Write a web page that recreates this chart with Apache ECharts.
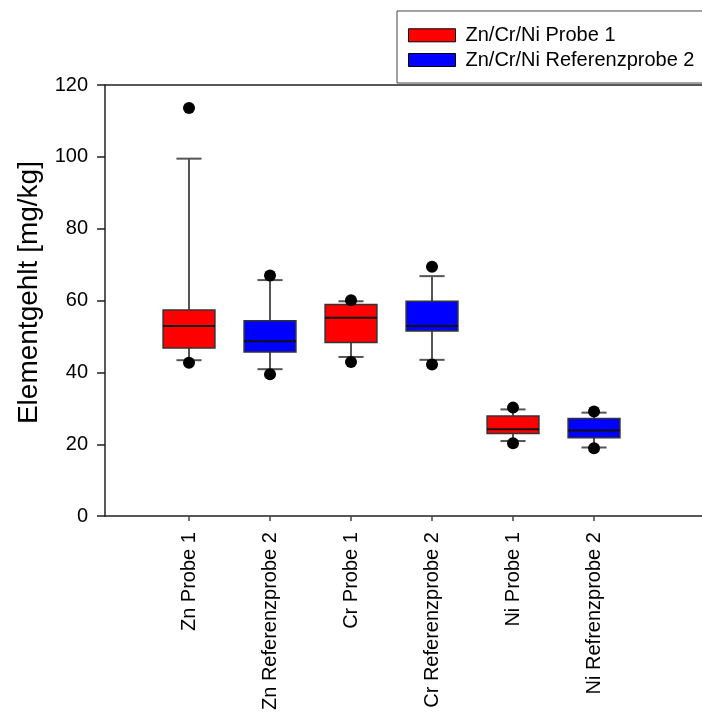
<!DOCTYPE html>
<html><head><meta charset="utf-8">
<script src="https://cdn.jsdelivr.net/npm/echarts@6/dist/echarts.min.js"></script>
<style>html,body{margin:0;padding:0;background:#fff}#c{width:702px;height:713px}</style>
</head><body><div id="c"></div>
<script>
const categories = ['Zn Probe 1','Zn Referenzprobe 2','Cr Probe 1','Cr Referenzprobe 2','Ni Probe 1','Ni Refrenzprobe 2'];
const whiskerLow  = [43.4, 40.9, 44.3, 43.5, 20.9, 19.1];
const q1          = [46.8, 45.7, 48.3, 51.5, 23.0, 21.8];
const median      = [52.9, 48.7, 55.2, 52.9, 24.2, 23.8];
const q3          = [57.4, 54.4, 58.9, 59.8, 27.9, 27.2];
const whiskerHigh = [99.5, 65.7, 59.8, 66.8, 29.7, 28.8];
const outliersHigh = [113.6, 67.0, 60.1, 69.4, 30.2, 29.1];
const outliersLow  = [42.7, 39.5, 42.9, 42.2, 20.3, 18.9];
const seriesNames = ['Zn/Cr/Ni Probe 1', 'Zn/Cr/Ni Referenzprobe 2'];
const seriesIdx = [[0,2,4],[1,3,5]];
const yTicks = [0,20,40,60,80,100,120];

const FONT = '"Liberation Sans", Arial, sans-serif';
const BOX_W = 0.64, CAP_W = 0.31;
const chart = echarts.init(document.getElementById('c'), null, {renderer:'canvas'});

function boxData(idx){ return idx.map(i => [i, whiskerLow[i], q1[i], median[i], q3[i], whiskerHigh[i]]); }

function renderBox(params, api){
  const x = api.value(0);
  const lo = api.coord([x, api.value(1)]);
  const b1 = api.coord([x, api.value(2)]);
  const md = api.coord([x, api.value(3)]);
  const b3 = api.coord([x, api.value(4)]);
  const hi = api.coord([x, api.value(5)]);
  const unit = api.size([1,0])[0];
  const bw = unit*BOX_W, cw = unit*CAP_W;
  const cx = lo[0];
  const fill = api.visual('color');
  const ws = {stroke:'#555', lineWidth:2};
  return {type:'group', children:[
    {type:'line', shape:{x1:cx,y1:lo[1],x2:cx,y2:b1[1]}, style:ws},
    {type:'line', shape:{x1:cx,y1:b3[1],x2:cx,y2:hi[1]}, style:ws},
    {type:'line', shape:{x1:cx-cw/2,y1:lo[1],x2:cx+cw/2,y2:lo[1]}, style:ws},
    {type:'line', shape:{x1:cx-cw/2,y1:hi[1],x2:cx+cw/2,y2:hi[1]}, style:ws},
    {type:'rect', shape:{x:cx-bw/2,y:b3[1],width:bw,height:b1[1]-b3[1]}, style:{fill:fill, stroke:'#333', lineWidth:1.5}},
    {type:'line', shape:{x1:cx-bw/2,y1:md[1],x2:cx+bw/2,y2:md[1]}, style:{stroke:'#111', lineWidth:2}}
  ]};
}

const colors = ['#ff0000', '#0000ff'];
const series = seriesNames.map((n,k) => ({
  type:'custom', name:n, renderItem:renderBox, data:boxData(seriesIdx[k]),
  itemStyle:{color:colors[k], borderColor:'#000', borderWidth:1},
  encode:{x:0, y:[1,2,3,4,5]}, z:2
}));
series.push({type:'scatter', name:'out', symbol:'circle', symbolSize:12, itemStyle:{color:'#000', opacity:1},
  data: categories.map((c,i)=>[i, outliersHigh[i]]).concat(categories.map((c,i)=>[i, outliersLow[i]])), z:5});

chart.setOption({
  animation:false,
  backgroundColor:'#fff',
  grid:{left:105, right:0, top:85, bottom:196},
  legend:{data:seriesNames, orient:'vertical', left:397, top:11, icon:'rect', itemWidth:47, itemHeight:13,
    itemGap:4.7, padding:[14.3,30,13,11], borderColor:'#444', borderWidth:1,
    itemStyle:{borderColor:'#000', borderWidth:1},
    textStyle:{fontFamily:FONT, fontSize:20, color:'#000', lineHeight:20, padding:[0,0,0,5]}},
  xAxis:[{type:'value', min:-1.037, max:6.333, position:'bottom', splitLine:{show:false},
    axisLine:{show:true, onZero:false, lineStyle:{color:'#222', width:1.5}},
    axisTick:{show:true, customValues:[0,1,2,3,4,5], length:5, lineStyle:{color:'#444', width:1.5}},
    axisLabel:{customValues:[0,1,2,3,4,5], rotate:90, margin:16, fontFamily:FONT, fontSize:20, color:'#000',
      formatter:v => categories[Math.round(v)]}},
    {type:'value', min:-1.037, max:6.333, position:'top', splitLine:{show:false},
     axisLine:{show:true, onZero:false, lineStyle:{color:'#222', width:1.5}}, axisTick:{show:false}, axisLabel:{show:false}}],
  yAxis:{type:'value', min:0, max:120, interval:20, splitLine:{show:false},
    axisLine:{show:true, onZero:false, lineStyle:{color:'#222', width:1.5}},
    axisTick:{show:true, length:8, lineStyle:{color:'#222', width:1.5}},
    axisLabel:{margin:17, fontFamily:FONT, fontSize:20, color:'#000'},
    name:'Elementgehlt [mg/kg]', nameLocation:'middle', nameRotate:90, nameGap:62,
    nameTextStyle:{fontFamily:FONT, fontSize:28, color:'#000', padding:[0,0,0,16]}},
  series:series
});
</script></body></html>
